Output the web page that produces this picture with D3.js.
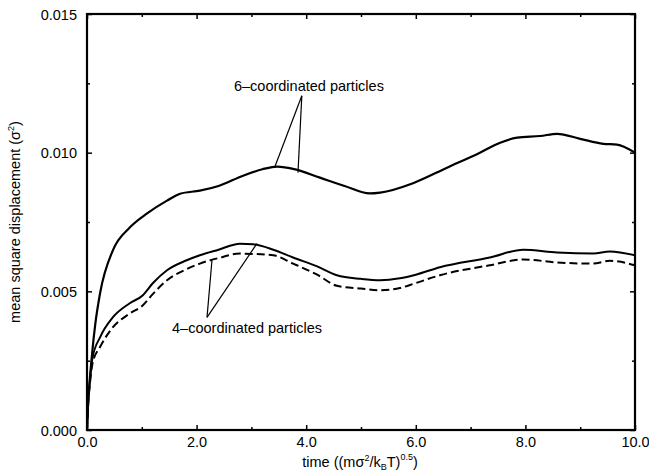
<!DOCTYPE html>
<html><head><meta charset="utf-8">
<script src="https://cdn.jsdelivr.net/npm/d3@7"></script>
<style>body{margin:0;background:#fff}svg{display:block}text{font-family:"Liberation Sans",Arial,sans-serif;fill:#000}</style>
</head><body><svg id="c" width="649" height="476"></svg>
<script>
const time6 = [0, 0.02, 0.05, 0.1, 0.15, 0.24, 0.47, 0.78, 1.09, 1.46, 1.7, 2.06, 2.4, 2.85, 3.2, 3.47, 3.8, 4.25, 4.7, 5.16, 5.35, 5.95, 6.57, 7.17, 7.54, 7.85, 8.27, 8.58, 9.0, 9.42, 9.67, 10];
const msd6 = [0, 0.001, 0.0018, 0.0029, 0.0038, 0.00495, 0.00647, 0.0073, 0.0078, 0.00827, 0.00852, 0.00863, 0.0088, 0.00917, 0.0094, 0.0095, 0.0094, 0.0091, 0.0088, 0.00853, 0.00856, 0.0089, 0.00946, 0.0100, 0.01036, 0.01054, 0.0106, 0.01068, 0.0105, 0.01032, 0.01029, 0.0100];
const time4 = [0, 0.02, 0.05, 0.1, 0.24, 0.47, 0.78, 1.02, 1.2, 1.46, 1.82, 2.06, 2.4, 2.79, 3.03, 3.4, 3.76, 4.2, 4.56, 5.0, 5.35, 5.71, 6.0, 6.44, 7.35, 7.96, 8.58, 9.24, 9.54, 10];
const msd4 = [0, 0.0009, 0.0017, 0.0026, 0.00335, 0.00406, 0.00457, 0.00486, 0.00529, 0.00576, 0.00612, 0.0063, 0.0065, 0.00672, 0.0067, 0.0065, 0.00622, 0.0059, 0.00558, 0.00545, 0.0054, 0.00547, 0.0056, 0.00587, 0.00622, 0.0065, 0.0064, 0.00636, 0.00644, 0.0063];
const msd4dash = [0, 0.0009, 0.0016, 0.0024, 0.003, 0.0037, 0.0042, 0.0045, 0.0049, 0.0054, 0.0058, 0.006, 0.0062, 0.00636, 0.00635, 0.0063, 0.0060, 0.0056, 0.0052, 0.0051, 0.00504, 0.00512, 0.0053, 0.00558, 0.00594, 0.00615, 0.00604, 0.006, 0.0061, 0.00594];
const xTicks = [0, 2, 4, 6, 8, 10];
const xMinor = [1, 3, 5, 7, 9];
const yTicks = [0, 0.005, 0.010, 0.015];
const yMinor = [0.0025, 0.0075, 0.0125];
const label6 = "6\u2013coordinated particles";
const label4 = "4\u2013coordinated particles";

const svg = d3.select("#c");
const L = 87, R = 635, T = 14, B = 430;
const x = d3.scaleLinear().domain([0, 10]).range([L, R]);
const y = d3.scaleLinear().domain([0, 0.015]).range([B, T]);

const line = d3.line().x(d => x(d[0])).y(d => y(d[1])).curve(d3.curveMonotoneX);
const g = svg.append("g");
g.append("path").datum(d3.zip(time6, msd6)).attr("d", line).attr("fill", "none").attr("stroke", "#000").attr("stroke-width", 2.2);
g.append("path").datum(d3.zip(time4, msd4)).attr("d", line).attr("fill", "none").attr("stroke", "#000").attr("stroke-width", 2);
g.append("path").datum(d3.zip(time4, msd4dash)).attr("d", line).attr("fill", "none").attr("stroke", "#000").attr("stroke-width", 2).attr("stroke-dasharray", "8,4");

// axes
const fs = 14.5;
const xAxisB = d3.axisBottom(x).tickValues(xTicks).tickSizeInner(-5).tickSizeOuter(0).tickPadding(10).tickFormat(d3.format(".1f"));
const gx = svg.append("g").attr("transform", `translate(0,${B})`).call(xAxisB);
gx.append("g").call(d3.axisBottom(x).tickValues(xMinor).tickSizeInner(-3).tickSizeOuter(0).tickFormat(""));
const gxt = svg.append("g").attr("transform", `translate(0,${T})`).call(d3.axisTop(x).tickValues(xTicks).tickSizeInner(-5).tickSizeOuter(0).tickFormat(""));
gxt.append("g").call(d3.axisTop(x).tickValues(xMinor).tickSizeInner(-3).tickSizeOuter(0).tickFormat(""));
const gy = svg.append("g").attr("transform", `translate(${L},0)`).call(d3.axisLeft(y).tickValues(yTicks).tickSizeInner(-5).tickSizeOuter(0).tickPadding(10).tickFormat(d3.format(".3f")));
gy.append("g").call(d3.axisLeft(y).tickValues(yMinor).tickSizeInner(-3).tickSizeOuter(0).tickFormat(""));
const gyr = svg.append("g").attr("transform", `translate(${R},0)`).call(d3.axisRight(y).tickValues(yTicks).tickSizeInner(-5).tickSizeOuter(0).tickFormat(""));
gyr.append("g").call(d3.axisRight(y).tickValues(yMinor).tickSizeInner(-3).tickSizeOuter(0).tickFormat(""));
svg.selectAll(".domain").remove();
svg.selectAll(".tick line").attr("stroke", "#000").attr("stroke-width", 1.5);
svg.selectAll(".tick text").attr("font-size", fs).attr("font-family", "Liberation Sans, Arial, sans-serif");
gx.selectAll(".tick text").attr("dy", "0.45em");
gy.selectAll(".tick text").attr("dy", "0.35em");

svg.append("rect").attr("x", L).attr("y", T).attr("width", R - L).attr("height", B - T)
  .attr("fill", "none").attr("stroke", "#000").attr("stroke-width", 2.2);

// axis titles
const tfs = 14.5, sfs = 9;
const xt = svg.append("text").attr("x", 360).attr("y", 467).attr("text-anchor", "middle").attr("font-size", tfs);
xt.append("tspan").text("time ((m\u03c3");
xt.append("tspan").text("2").attr("font-size", sfs).attr("dy", -6);
xt.append("tspan").text("/k").attr("dy", 6);
xt.append("tspan").text("B").attr("font-size", sfs).attr("dy", 3);
xt.append("tspan").text("T)").attr("dy", -3);
xt.append("tspan").text("0.5").attr("font-size", sfs).attr("dy", -7);
xt.append("tspan").text(")").attr("dy", 7);

const yt = svg.append("text").attr("transform", "translate(20,222) rotate(-90)").attr("text-anchor", "middle").attr("font-size", tfs);
yt.append("tspan").text("mean square displacement (\u03c3");
yt.append("tspan").text("2").attr("font-size", sfs).attr("dy", -6);
yt.append("tspan").text(")").attr("dy", 6);

// annotations
const ann = svg.append("g");
ann.append("text").attr("x", x(4.05)).attr("y", y(0.01222)).attr("text-anchor", "middle").attr("font-size", tfs).text(label6);
const ap6 = [3.92, 0.01205];
[[3.43, 0.0095], [3.85, 0.00928]].forEach(e => {
  ann.append("line").attr("x1", x(ap6[0])).attr("y1", y(ap6[1])).attr("x2", x(e[0])).attr("y2", y(e[1])).attr("stroke", "#000").attr("stroke-width", 1.2);
});
ann.append("text").attr("x", x(2.92)).attr("y", y(0.0035)).attr("text-anchor", "middle").attr("font-size", tfs).text(label4);
const ap4 = [2.19, 0.00406];
[[2.28, 0.00611], [3.1, 0.00672]].forEach(e => {
  ann.append("line").attr("x1", x(ap4[0])).attr("y1", y(ap4[1])).attr("x2", x(e[0])).attr("y2", y(e[1])).attr("stroke", "#000").attr("stroke-width", 1.2);
});
</script></body></html>
